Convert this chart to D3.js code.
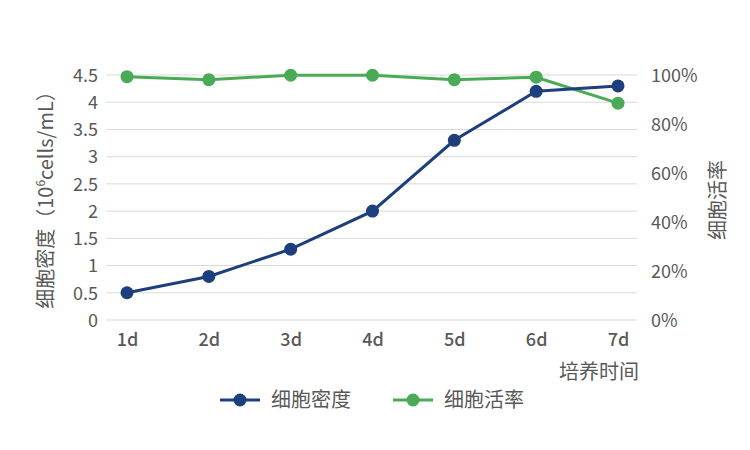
<!DOCTYPE html>
<html><head><meta charset="utf-8">
<script src="https://cdn.jsdelivr.net/npm/d3@7/dist/d3.min.js"></script>
<style>body{margin:0;background:#fff}svg{display:block}text{font-family:"Noto Sans CJK SC","Noto Sans",sans-serif;fill:#595959}</style>
</head><body><svg id="c" width="750" height="450"></svg>
<script>
const categories = ["1d","2d","3d","4d","5d","6d","7d"];
const density = [0.5, 0.8, 1.3, 2.0, 3.3, 4.2, 4.3];
const viability = [99.3, 98.1, 99.9, 99.9, 98.1, 99.1, 88.5];
const leftTicks = [0,0.5,1,1.5,2,2.5,3,3.5,4,4.5];
const rightTicks = [0,20,40,60,80,100];
const blue = "#1d3f7e", green = "#4aaa55";

const svg = d3.select("#c");
const x = d3.scalePoint().domain(categories).range([127, 618]);
const yL = d3.scaleLinear().domain([0,4.5]).range([320,75]);
const yR = d3.scaleLinear().domain([0,100]).range([320,75]);
const gx0 = 106, gx1 = 637;

// gridlines
svg.append("g").selectAll("line").data(leftTicks).join("line")
  .attr("x1",gx0).attr("x2",gx1).attr("y1",d=>yL(d)).attr("y2",d=>yL(d))
  .attr("stroke","#d9d9d9").attr("stroke-width",1);

// left axis
const axL = svg.append("g").attr("transform",`translate(${gx0},0)`)
  .call(d3.axisLeft(yL).tickValues(leftTicks).tickSize(0).tickPadding(8).tickFormat(d=>String(d)));
axL.select(".domain").remove();
axL.selectAll("text").attr("font-size",18).attr("dy","0.35em").style("fill","#595959");

// right axis
const axR = svg.append("g").attr("transform",`translate(${gx1},0)`)
  .call(d3.axisRight(yR).tickValues(rightTicks).tickSize(0).tickPadding(14).tickFormat(d=>d+"%"));
axR.select(".domain").remove();
axR.selectAll("text").attr("font-size",18).attr("dy","0.35em").style("fill","#595959");

// x axis
const axX = svg.append("g").attr("transform",`translate(0,${320})`)
  .call(d3.axisBottom(x).tickSize(0).tickPadding(13));
axX.select(".domain").remove();
axX.selectAll("text").attr("font-size",18).attr("font-weight","500").attr("dy","0.71em").style("fill","#595959");

// titles
const lt = svg.append("text").attr("transform","translate(53,195) rotate(-90)").attr("text-anchor","middle")
  .attr("font-size",20);
lt.append("tspan").text("细胞密度（10");
lt.append("tspan").attr("font-size",12).attr("dy",-8).text("6");
lt.append("tspan").attr("dy",8).text("cells/mL）");
svg.append("text").attr("transform","translate(718,200) rotate(-90)").attr("text-anchor","middle")
  .attr("font-size",20).attr("dy","0.35em").text("细胞活率");
svg.append("text").attr("x",639).attr("y",379).attr("text-anchor","end").attr("font-size",20).text("培养时间");

// lines
const line = (s)=>d3.line().x((d,i)=>x(categories[i])).y(d=>s(d));
svg.append("path").datum(viability).attr("d",line(yR)).attr("fill","none").attr("stroke",green).attr("stroke-width",3);
svg.append("path").datum(density).attr("d",line(yL)).attr("fill","none").attr("stroke",blue).attr("stroke-width",3);
svg.append("g").selectAll("circle").data(density).join("circle")
  .attr("cx",(d,i)=>x(categories[i])).attr("cy",d=>yL(d)).attr("r",6.5).attr("fill",blue);
svg.append("g").selectAll("circle").data(viability).join("circle")
  .attr("cx",(d,i)=>x(categories[i])).attr("cy",d=>yR(d)).attr("r",6.5).attr("fill",green);

// legend
const legend = [{name:"细胞密度",color:blue,x:220},{name:"细胞活率",color:green,x:393}];
const lg = svg.append("g").selectAll("g").data(legend).join("g").attr("transform",d=>`translate(${d.x},400)`);
lg.append("line").attr("x1",0).attr("x2",40).attr("stroke",d=>d.color).attr("stroke-width",3);
lg.append("circle").attr("cx",20).attr("r",6.5).attr("fill",d=>d.color);
lg.append("text").attr("x",51).attr("dy","0.35em").attr("font-size",20).text(d=>d.name);
</script></body></html>
